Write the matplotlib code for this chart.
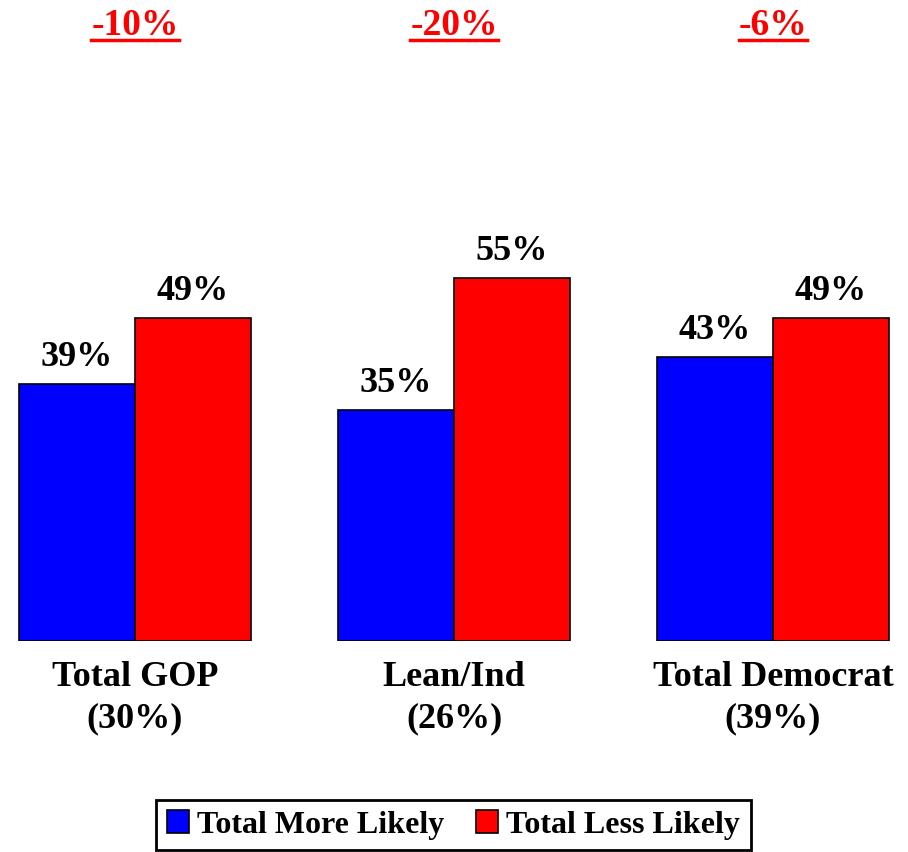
import matplotlib
matplotlib.use("Agg")
import matplotlib.pyplot as plt
from matplotlib.lines import Line2D
import numpy as np

categories = ["Total GOP\n(30%)", "Lean/Ind\n(26%)", "Total Democrat\n(39%)"]
more_likely = [39, 35, 43]
less_likely = [49, 55, 49]
diff_labels = ["-10%", "-20%", "-6%"]
series_names = ["Total More Likely", "Total Less Likely"]

plt.rcParams['font.family'] = ['Liberation Serif', 'DejaVu Serif']
plt.rcParams['font.weight'] = 'bold'

fig = plt.figure(figsize=(9.08, 8.52), dpi=100)
ax = fig.add_axes([0, 211/852, 1, 581/852])
ax.set_xlim(-0.423, 2.423)
ax.set_ylim(0, 581/6.6)
ax.axis('off')

x = np.arange(len(categories))
w = 116/319
b1 = ax.bar(x - w/2, more_likely, w, color='#0000FF', edgecolor='black', linewidth=1.2, label=series_names[0])
b2 = ax.bar(x + w/2, less_likely, w, color='#FF0000', edgecolor='black', linewidth=1.2, label=series_names[1])

for bars, vals in ((b1, more_likely), (b2, less_likely)):
    for r, v in zip(bars, vals):
        ax.annotate(f"{v}%", (r.get_x() + r.get_width()/2, v), xytext=(0, 13),
                    textcoords='offset points', ha='center', va='baseline',
                    fontsize=26, fontweight='bold')

for xi, c in zip(x, categories):
    ax.text(xi, -0.035, c, transform=ax.get_xaxis_transform(), ha='center', va='top',
            fontsize=26, fontweight='bold', linespacing=1.3)

diff_texts = []
for xi, d in zip(x, diff_labels):
    t = fig.text(0, 0, d, color='#FF0000', fontsize=27, fontweight='bold', ha='center', va='baseline')
    xf = ax.transData.transform((xi, 0))[0] / fig.bbox.width
    t.set_position((xf, (852-35)/852))
    diff_texts.append(t)

leg = fig.legend(handles=[b1, b2], loc='lower center', bbox_to_anchor=(0.4994, 2/852),
                 ncol=2, frameon=True, fancybox=False, edgecolor='black', framealpha=1,
                 handlelength=0.7, handleheight=0.7, handletextpad=0.25, columnspacing=1.0,
                 borderpad=0.32, borderaxespad=0, prop={'weight': 'bold', 'size': 23})
leg.get_frame().set_linewidth(2)

fig.canvas.draw()
r = fig.canvas.get_renderer()
for t in diff_texts:
    bb = t.get_window_extent(r)
    y = (852-40)/852
    fig.add_artist(Line2D([bb.x0/fig.bbox.width, bb.x1/fig.bbox.width], [y, y],
                          color='#FF0000', linewidth=2.5, transform=fig.transFigure))

fig.savefig('out.png', dpi=100)
